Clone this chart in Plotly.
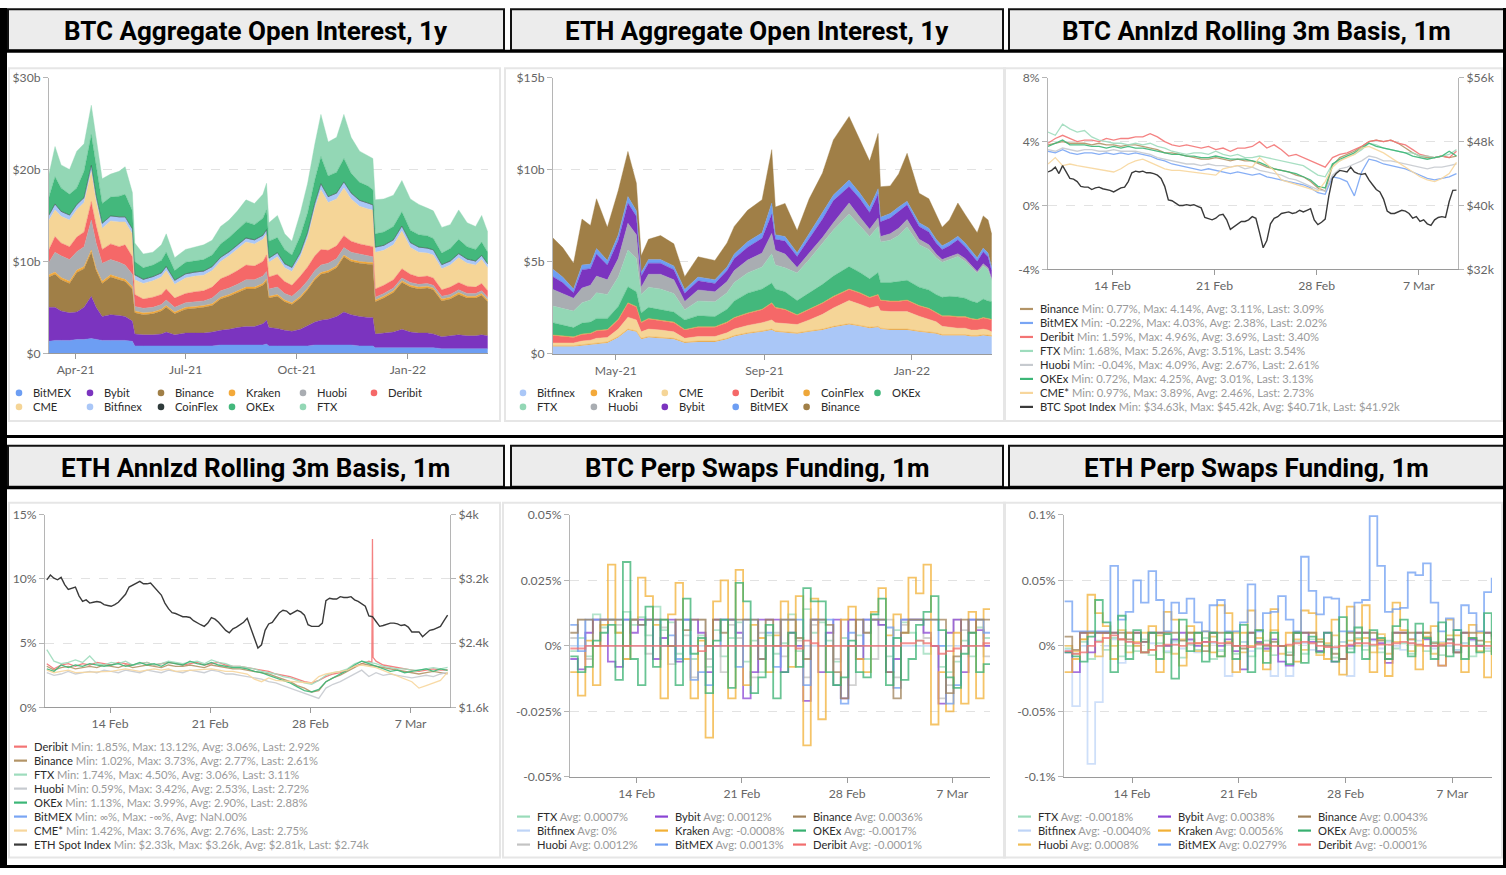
import plotly.graph_objects as go
import pandas as pd

W, H = 1506, 875
# The photographed page is shown with a small constant vertical offset/scale; positions below are
# given in target-picture pixels and mapped to page pixels here.
SY, BY = 0.9836, 7.8
def X(p): return p / W
def Y(p): return 1 - ((p - BY) / SY) / H
def Yraw(p): return 1 - p / H

# ---------------- Panel 1 : BTC aggregate open interest ($b, stacked) ----------------
btc_oi_dates = ["2021-03-10","2021-03-15","2021-03-20","2021-03-27","2021-04-02","2021-04-08","2021-04-14","2021-04-18","2021-04-23","2021-04-30",
                "2021-05-07","2021-05-12","2021-05-18","2021-05-20","2021-05-27","2021-06-04","2021-06-11","2021-06-15","2021-06-22","2021-07-01",
                "2021-07-09","2021-07-16","2021-07-23","2021-07-30","2021-08-06","2021-08-13","2021-08-20","2021-08-27","2021-09-03","2021-09-06",
                "2021-09-08","2021-09-15","2021-09-21","2021-09-27","2021-10-04","2021-10-10","2021-10-16","2021-10-21","2021-10-27","2021-11-03",
                "2021-11-09","2021-11-15","2021-11-22","2021-11-29","2021-12-03","2021-12-05","2021-12-12","2021-12-20","2021-12-27","2022-01-03",
                "2022-01-10","2022-01-17","2022-01-22","2022-01-29","2022-02-05","2022-02-12","2022-02-19","2022-02-26","2022-03-03","2022-03-08"]
btc_oi_bitmex = [1.3,1.4,1.4,1.4,1.5,1.5,1.6,1.5,1.4,1.4, 1.4,1.4,1.3,0.8,0.8,0.8,0.8,0.8,0.8,0.8, 0.8,0.8,0.8,0.9,0.9,0.9,0.9,0.9,0.9,1.0,
                 0.8,0.8,0.8,0.8,0.8,0.8,0.9,0.9,0.9,0.9, 0.9,0.9,0.8,0.8,0.8,0.6,0.6,0.6,0.6,0.6, 0.6,0.6,0.6,0.5,0.5,0.5,0.5,0.5,0.5,0.5]
btc_oi_bybit = [3.7,3.6,3.2,3.0,3.0,3.5,4.6,3.5,2.6,2.8, 2.7,2.6,2.2,1.3,1.2,1.2,1.3,1.5,1.2,1.4, 1.4,1.4,1.5,1.6,1.7,1.9,2.0,2.0,2.3,2.6,
                2.0,1.9,1.7,1.6,1.8,2.2,2.5,2.7,2.8,3.1, 3.6,3.3,3.2,3.1,3.1,1.5,1.6,1.7,2.0,1.7, 1.6,1.6,1.5,1.3,1.4,1.5,1.4,1.4,1.5,1.4]
btc_oi_binance = [3.3,3.6,3.4,3.2,4.3,4.2,4.8,4.0,3.6,4.1, 3.9,3.8,3.5,2.3,2.2,2.3,2.5,2.7,2.3,2.6, 2.7,2.8,2.9,3.4,3.6,3.8,4.1,4.1,4.2,4.3,
                  3.2,3.5,3.1,2.9,3.4,3.9,4.6,5.0,5.1,5.3, 6.0,5.8,5.8,5.8,5.8,3.5,3.8,4.3,5.1,4.9, 4.8,4.9,4.8,3.9,4.0,4.4,4.1,4.1,4.3,3.7]
btc_oi_kraken = [0.25,0.25,0.25,0.25,0.25,0.25,0.25,0.25,0.25,0.25, 0.25,0.25,0.25,0.2,0.2,0.2,0.2,0.2,0.2,0.2, 0.2,0.2,0.2,0.2,0.2,0.2,0.2,0.2,0.2,0.2,
                 0.2,0.2,0.2,0.2,0.2,0.2,0.2,0.2,0.2,0.2, 0.2,0.2,0.2,0.2,0.2,0.2,0.2,0.2,0.2,0.2, 0.2,0.2,0.2,0.2,0.2,0.2,0.2,0.2,0.2,0.2]
btc_oi_huobi = [1.35,2.15,2.35,2.35,2.0,2.15,3.25,2.75,1.95,1.65, 1.65,1.55,1.35,0.5,0.5,0.5,0.5,0.6,0.5,0.5, 0.5,0.5,0.6,0.7,0.7,0.7,0.8,0.8,0.8,0.8,
                0.8,0.8,0.7,0.7,0.8,0.8,0.8,0.8,0.8,0.8, 0.8,0.8,0.8,0.7,0.6,0.3,0.3,0.3,0.3,0.3, 0.3,0.3,0.3,0.3,0.3,0.3,0.3,0.3,0.3,0.3]
btc_oi_deribit = [1.4,1.7,1.4,1.4,1.6,1.6,2.0,1.9,1.5,1.7, 1.7,2.2,1.9,1.3,1.0,1.1,1.1,1.2,1.0,1.0, 1.1,1.1,1.2,1.3,1.4,1.5,1.6,1.5,1.6,1.8,
                  1.3,1.4,1.3,1.2,1.4,1.5,1.6,1.7,1.4,1.4, 1.3,1.2,1.1,1.1,1.1,0.9,0.9,0.9,1.0,0.9, 0.8,0.8,0.8,0.7,0.8,0.8,0.8,0.7,0.8,0.7]
btc_oi_cme = [3.2,2.9,2.9,2.9,3.0,3.2,3.3,2.7,2.3,2.5, 2.7,2.5,2.5,1.6,1.7,1.8,1.9,2.0,1.5,1.7, 1.7,1.7,1.8,1.9,2.1,2.3,2.5,2.4,2.4,2.3,
              1.6,1.9,1.5,1.5,2.1,3.2,5.2,6.5,5.2,5.1, 5.2,4.6,4.1,4.0,4.0,4.0,3.8,3.8,4.1,2.9, 2.7,2.5,2.5,2.3,2.4,2.7,2.5,2.4,2.6,2.5]
btc_oi_bitfinex = [0.5,0.6,0.5,0.5,0.5,0.5,0.6,0.5,0.5,0.5, 0.5,0.5,0.5,0.5,0.4,0.4,0.4,0.4,0.4,0.4, 0.4,0.4,0.4,0.4,0.4,0.4,0.4,0.4,0.4,0.4,
                   0.4,0.4,0.4,0.4,0.4,0.5,0.5,0.6,0.6,0.6, 0.6,0.6,0.6,0.6,0.5,0.5,0.5,0.5,0.5,0.5, 0.5,0.5,0.5,0.4,0.4,0.4,0.4,0.4,0.4,0.4]
btc_oi_coinflex = [0.05,0.05,0.05,0.05,0.05,0.05,0.05,0.05,0.05,0.05, 0.05,0.05,0.05,0.05,0.05,0.05,0.05,0.05,0.05,0.05,
                   0.05,0.05,0.05,0.05,0.05,0.05,0.05,0.05,0.05,0.05, 0.05,0.05,0.05,0.05,0.05,0.05,0.05,0.05,0.05,0.05,
                   0.05,0.05,0.05,0.05,0.05,0.05,0.05,0.05,0.05,0.05, 0.05,0.05,0.05,0.05,0.05,0.05,0.05,0.05,0.05,0.05]
btc_oi_okex = [1.95,2.95,2.55,2.25,1.8,2.85,3.35,3.35,2.15,2.05, 2.25,2.45,1.95,1.45,1.25,1.25,1.35,1.55,1.05,1.25, 1.25,1.25,1.25,1.45,1.55,1.65,1.75,1.65,1.85,2.15,
               1.85,1.65,1.55,1.35,1.85,2.15,2.55,2.95,2.25,2.25, 2.55,2.15,1.95,1.85,1.65,1.45,1.45,1.45,1.55,1.35, 1.35,1.35,1.25,1.25,1.35,1.55,1.35,1.25,1.45,1.25]
btc_oi_ftx = [2.5,3.3,2.5,2.7,4.0,3.0,3.2,3.0,2.7,2.5, 2.7,3.0,2.0,2.0,1.5,1.4,1.7,2.0,1.4,1.4, 1.5,1.6,1.6,1.9,1.9,2.1,2.4,2.3,2.6,2.9,
              2.0,2.4,1.7,1.5,2.5,3.2,3.9,4.6,3.7,3.8, 4.8,3.9,3.4,3.3,3.4,3.7,3.6,3.4,3.4,3.4, 3.3,3.0,3.0,2.8,2.6,3.2,2.6,2.5,2.9,2.2]

# ---------------- Panel 2 : ETH aggregate open interest ($b, stacked) ----------------
eth_oi_dates = ["2021-03-10","2021-03-18","2021-03-27","2021-04-03","2021-04-10","2021-04-15","2021-04-24","2021-05-03","2021-05-11","2021-05-18",
                "2021-05-22","2021-05-28","2021-06-07","2021-06-18","2021-06-27","2021-07-08","2021-07-22","2021-08-01","2021-08-07","2021-08-18",
                "2021-08-30","2021-09-07","2021-09-10","2021-09-18","2021-09-28","2021-10-08","2021-10-19","2021-10-28","2021-11-10","2021-11-19",
                "2021-11-27","2021-12-04","2021-12-06","2021-12-14","2021-12-21","2021-12-28","2022-01-07","2022-01-15","2022-01-21","2022-01-26",
                "2022-02-01","2022-02-08","2022-02-14","2022-02-19","2022-02-24","2022-03-01","2022-03-05","2022-03-08"]
eth_oi_bitfinex = [0.4,0.4,0.4,0.45,0.5,0.55,0.6,0.9,1.3,1.2, 0.8,0.9,0.85,0.8,0.6,0.65,0.65,0.8,0.95,1.1, 1.2,1.3,1.2,1.15,1.1,1.2,1.3,1.45,1.6,1.5,
                   1.4,1.45,1.35,1.3,1.3,1.3,1.2,1.15,1.1,1.0, 1.0,1.0,1.0,0.95,0.95,1.0,0.95,0.95]
eth_oi_kraken = [0.05,0.05,0.05,0.05,0.05,0.05,0.05,0.05,0.05,0.05, 0.05,0.05,0.05,0.05,0.05,0.05,0.05,0.05,0.05,0.05,
                 0.05,0.05,0.05,0.05,0.05,0.05,0.05,0.05,0.05,0.05, 0.05,0.05,0.05,0.05,0.05,0.05,0.05,0.05,0.05,0.05,
                 0.05,0.05,0.05,0.05,0.05,0.05,0.05,0.05]
eth_oi_cme = [0.15,0.15,0.15,0.2,0.2,0.25,0.25,0.4,0.65,0.6, 0.35,0.4,0.4,0.35,0.2,0.25,0.25,0.3,0.35,0.4, 0.45,0.5,0.45,0.45,0.45,0.6,0.8,1.0,1.25,1.15,
              1.05,1.1,0.95,0.95,0.95,0.95,0.8,0.7,0.6,0.45, 0.4,0.35,0.35,0.3,0.3,0.3,0.3,0.2]
eth_oi_deribit = [0.4,0.35,0.3,0.35,0.35,0.4,0.4,0.5,0.75,0.7, 0.5,0.55,0.5,0.5,0.45,0.5,0.5,0.55,0.6,0.65, 0.7,0.9,0.8,0.75,0.5,0.55,0.6,0.6,0.6,0.6,
                  0.55,0.6,0.55,0.55,0.55,0.6,0.55,0.55,0.5,0.55, 0.6,0.6,0.6,0.6,0.55,0.6,0.6,0.65]
eth_oi_coinflex = [0.03,0.03,0.03,0.03,0.03,0.03,0.03,0.03,0.03,0.03, 0.03,0.03,0.03,0.03,0.03,0.03,0.03,0.03,0.03,0.03,
                   0.03,0.03,0.03,0.03,0.03,0.03,0.03,0.03,0.03,0.03, 0.03,0.03,0.03,0.03,0.03,0.03,0.03,0.03,0.03,0.03,
                   0.03,0.03,0.03,0.03,0.03,0.03,0.03,0.03]
eth_oi_okex = [0.67,0.6,0.5,0.6,0.6,0.65,0.6,0.7,0.87,0.8, 0.5,0.6,0.6,0.55,0.52,0.6,0.55,0.7,0.9,1.07, 1.1,1.07,1.0,0.95,0.77,0.9,1.0,1.1,1.22,1.1,
               1.0,1.2,0.95,1.0,1.05,1.07,1.0,1.0,0.95,1.0, 1.05,1.07,1.0,0.95,0.9,1.0,0.95,0.97]
eth_oi_ftx = [0.9,0.9,0.9,1.1,1.2,1.4,1.3,1.6,2.0,1.8, 1.0,1.1,1.1,1.0,0.55,0.8,0.8,0.9,1.0,1.1, 1.2,1.6,1.3,1.3,1.5,1.8,2.2,2.5,2.85,2.5,
              2.3,2.5,2.2,2.3,2.5,2.9,2.3,2.2,2.0,1.9, 2.0,2.2,2.0,1.8,1.6,1.8,1.7,1.15]
eth_oi_huobi = [0.9,0.8,0.7,0.8,0.8,0.9,0.8,1.0,1.45,1.3, 0.4,0.7,0.8,0.75,0.45,0.6,0.55,0.6,0.65,0.7, 0.75,1.1,0.8,0.75,0.3,0.35,0.35,0.4,0.6,0.5,
                0.4,0.45,0.3,0.35,0.4,0.4,0.3,0.25,0.2,0.15, 0.15,0.15,0.15,0.12,0.1,0.12,0.1,0.1]
eth_oi_bybit = [0.7,0.6,0.3,1.0,0.9,1.2,0.8,1.0,1.1,1.0, 0.6,0.6,0.6,0.55,0.45,0.5,0.45,0.6,0.65,0.7, 0.8,1.05,0.6,0.7,0.6,0.8,1.0,1.2,0.9,1.0,
                0.9,1.3,0.8,0.85,0.9,0.8,0.7,0.7,0.6,0.55, 0.6,0.75,0.65,0.6,0.55,0.65,0.6,0.4]
eth_oi_bitmex = [0.4,0.3,0.2,0.25,0.25,0.3,0.25,0.3,0.35,0.3, 0.2,0.2,0.2,0.2,0.2,0.2,0.2,0.2,0.25,0.3, 0.3,0.6,0.25,0.25,0.2,0.25,0.3,0.3,0.35,0.3,
                 0.3,0.3,0.25,0.25,0.25,0.2,0.2,0.2,0.2,0.2, 0.2,0.2,0.2,0.2,0.2,0.2,0.2,0.2]
eth_oi_binance = [1.7,1.6,1.4,2.5,2.1,2.7,1.8,2.4,2.45,1.5, 0.9,1.1,1.3,1.2,0.7,1.1,1.05,1.3,1.5,1.7, 1.8,2.9,1.5,1.8,1.2,1.9,2.2,3.0,3.45,2.9,
                  2.5,3.0,1.65,1.5,1.8,2.6,1.6,1.6,1.3,1.0, 1.2,1.8,1.55,1.5,1.35,1.75,1.8,1.8]

# ---------------- Panels 3/4 : annualised rolling 3m basis (%), spot index ($k) ----------------
basis_times = pd.date_range("2022-02-09 14:00", periods=57, freq="12h")
spot_times = pd.date_range("2022-02-09 14:00", periods=113, freq="6h")

btc_basis_binance = [3.8,3.9,4.0,3.9,3.9,3.9,3.8,3.9,3.8,3.8, 3.7,3.8,3.8,3.7,3.6,3.5,3.3,3.3,3.2,3.1, 3.0,2.9,2.9,3.0,2.9,2.8,2.9,2.8,2.8,2.6,
                     2.4,2.3,2.2,2.1,1.9,1.8,1.5,1.1,0.9,2.5, 3.0,3.2,3.4,3.7,4.0,4.1,4.0,4.1,3.9,3.6, 3.3,3.1,3.0,3.0,3.1,3.0,3.1]
btc_basis_bitmex = [3.4,3.3,3.5,3.3,3.2,3.3,3.3,3.2,3.3,3.2, 3.3,3.2,3.3,3.2,3.1,2.9,2.8,2.6,2.5,2.4, 2.3,2.2,2.3,2.2,2.1,2.0,2.1,2.0,1.9,2.0,
                    1.8,1.7,1.6,1.5,1.4,1.3,1.1,0.8,0.7,1.8, 1.7,1.5,0.6,2.1,2.9,2.8,2.6,2.5,2.4,2.3, 2.1,1.9,1.7,1.6,1.7,1.8,2.0]
btc_basis_deribit = [3.9,4.2,4.4,4.2,4.0,4.1,4.1,4.0,4.2,4.1, 4.2,4.2,4.3,4.3,4.5,4.3,4.0,3.8,3.7,3.8, 3.7,3.6,3.7,3.5,3.6,3.4,3.6,3.6,3.7,4.0,
                     3.6,3.8,3.5,3.1,3.2,3.0,2.8,2.6,2.4,3.0, 3.2,3.3,3.5,3.7,4.0,4.1,4.0,4.1,3.9,3.8, 3.5,3.2,3.1,3.0,3.1,3.0,3.4]
btc_basis_ftx = [4.6,4.4,5.1,4.8,4.6,4.7,4.3,4.1,4.0,3.9, 3.9,3.8,3.9,3.8,3.9,3.7,3.6,3.4,3.3,3.2, 3.3,3.3,3.2,3.4,3.2,3.1,3.2,3.0,3.0,3.1,
                 3.0,2.9,2.8,2.7,2.6,2.5,2.2,1.9,1.8,2.6, 2.8,3.1,3.2,3.5,3.9,3.8,3.6,3.5,3.4,3.3, 3.3,3.1,3.1,3.0,3.1,3.2,3.5]
btc_basis_huobi = [3.5,3.4,3.6,3.5,3.4,3.5,3.5,3.4,3.4,3.5, 3.4,3.4,3.4,3.3,3.2,3.0,2.9,2.8,2.7,2.6, 2.6,2.5,2.6,2.5,2.5,2.4,2.5,2.3,2.4,2.2,
                   2.1,2.0,1.9,1.7,1.6,1.4,1.2,1.0,0.9,1.9, 2.3,2.4,2.6,2.8,3.1,3.0,2.8,2.8,2.7,2.6, 2.5,2.4,2.3,2.4,2.4,2.5,2.6]
btc_basis_okex = [3.7,3.9,4.1,3.8,3.8,3.8,3.7,3.7,3.6,3.7, 3.6,3.7,3.6,3.6,3.5,3.4,3.3,3.2,3.2,3.1, 3.1,3.0,3.0,3.1,3.0,2.9,2.9,2.9,2.8,2.7,
                  2.5,2.3,2.2,2.1,2.0,1.8,1.6,1.2,1.1,2.6, 2.9,3.1,3.3,3.6,3.9,3.7,3.6,3.5,3.4,3.3, 3.1,3.0,2.9,3.0,3.1,3.4,3.1]
btc_basis_cme = [2.6,3.0,2.5,2.6,2.5,None,None,None,None,2.1, 2.3,2.6,2.8,2.9,2.7,2.5,2.3,2.2,2.2,None, None,None,None,1.9,2.3,2.4,2.5,2.5,2.4,3.0,
                 2.6,2.2,1.6,None,None,None,None,0.9,1.5,2.4, 2.8,3.0,3.2,3.6,3.7,3.5,3.3,None,None,None, None,1.8,1.6,1.5,1.7,2.0,2.7]
btc_spot = [44.2,44.4,44.8,44.0,45.0,44.2,43.4,43.3,43.0,42.4, 42.3,42.3,42.0,42.2,42.3,42.1,42.0,41.9,41.7,42.0,
            42.2,42.3,43.0,44.1,44.3,44.2,44.3,44.1,44.1,44.0, 43.8,43.4,42.4,40.7,40.6,40.3,40.0,40.0,40.1,40.0,
            40.1,39.9,39.7,38.5,38.3,38.2,38.4,38.8,38.9,38.2, 37.0,37.3,37.6,38.0,38.0,38.2,38.6,38.4,36.6,34.7,
            35.6,37.7,38.4,38.6,39.0,39.1,39.2,39.0,39.1,39.4, 39.2,39.4,39.6,38.2,37.6,37.9,38.3,41.2,43.4,44.0,
            44.4,44.3,44.2,44.8,44.2,44.0,43.9,44.0,43.2,42.6, 42.0,41.7,40.8,39.3,39.0,39.0,39.2,39.4,39.3,39.0,
            38.4,38.6,38.0,38.2,37.7,37.5,38.2,38.5,38.6,38.5, 40.5,41.9,41.92]

eth_deribit_times = list(basis_times[:46]) + [pd.Timestamp("2022-03-04 07:00"), pd.Timestamp("2022-03-04 08:00"),
                                              pd.Timestamp("2022-03-04 09:00")] + list(basis_times[46:])
eth_basis_deribit = [3.4,3.0,3.3,3.4,3.2,3.4,3.3,3.5,3.4,3.3, 3.5,3.4,3.3,3.4,3.5,3.3,3.4,3.5,3.4,3.3, 3.4,3.5,3.3,3.4,3.5,3.3,3.2,3.2,3.1,3.0,
                     2.9,2.8,2.6,2.5,2.4,2.2,2.0,1.9,2.1,2.4, 2.6,2.7,2.9,3.2,3.4,3.6, 3.5,13.12,3.9,
                     3.6,3.3,3.2,3.1,3.0,2.9,2.8,2.9,3.0,2.9,2.92]
eth_basis_binance = [3.2,2.9,3.1,3.2,3.0,3.1,3.2,3.1,3.3,3.2, 3.1,3.3,3.1,3.2,3.3,3.2,3.1,3.3,3.2,3.2, 3.3,3.2,3.1,3.3,3.2,3.1,3.0,3.0,2.9,2.8,
                     2.7,2.6,2.4,2.2,2.0,1.7,1.5,1.2,1.3,2.0, 2.3,2.5,2.8,3.1,3.4,3.3,3.2,3.1,3.0,2.9, 2.8,2.7,2.6,2.7,2.8,2.7,2.61]
eth_basis_ftx = [4.5,3.6,3.4,3.5,3.7,3.5,4.0,3.4,3.3,3.5, 3.4,3.6,3.3,3.4,3.5,3.3,3.4,3.6,3.5,3.4, 3.5,3.6,3.4,3.7,3.5,3.4,3.2,3.2,3.1,3.0,
                 2.8,2.7,2.6,2.4,2.3,2.1,1.9,1.8,2.1,2.5, 2.7,2.8,3.0,3.4,3.6,3.5,3.4,3.2,3.1,3.0, 3.0,2.9,2.9,3.0,3.1,3.0,3.11]
eth_basis_huobi = [2.7,2.5,2.6,2.8,2.6,2.7,2.8,2.7,2.9,2.8, 2.7,2.9,2.8,2.7,2.9,2.8,2.7,2.9,2.8,2.7, 2.9,2.8,2.7,2.9,2.8,2.6,2.6,2.5,2.4,2.3,
                   2.2,2.0,1.9,1.7,1.5,1.3,1.1,0.9,0.7,1.5, 1.8,2.0,2.3,2.6,2.9,2.4,2.7,2.5,2.6,2.5, 2.4,2.3,2.4,2.5,2.4,2.6,2.72]
eth_basis_okex = [3.0,2.8,3.3,3.1,3.3,3.2,3.4,3.3,3.2,3.3, 3.4,3.2,3.3,3.5,3.3,3.4,3.2,3.5,3.4,3.3, 3.6,3.4,3.3,3.5,3.3,3.2,3.1,3.1,3.0,2.8,
                  2.7,2.5,2.3,2.1,1.9,1.6,1.3,1.2,1.4,2.0, 2.3,2.6,2.9,3.3,3.6,3.4,3.2,3.0,2.8,2.9, 2.7,2.8,2.9,3.0,2.8,3.0,2.88]
eth_basis_bitmex = []
eth_basis_cme = [2.9,2.7,2.8,2.9,2.7,None,None,None,None,2.8, 2.9,3.0,2.9,2.8,2.9,3.0,2.9,3.0,2.8,None, None,None,None,3.0,2.9,2.8,2.8,2.7,2.6,2.2,
                 2.0,2.3,2.1,None,None,None,None,1.9,2.4,2.6, 2.7,2.8,2.9,3.2,3.3,3.2,3.1,None,None,None, None,2.0,1.5,1.7,1.9,2.1,2.75]
eth_spot = [3.19,3.25,3.21,3.19,3.22,3.13,3.07,3.09,3.10,2.99, 2.92,2.94,2.90,2.91,2.92,2.91,2.88,2.87,2.86,2.88,
            2.91,2.96,3.01,3.10,3.12,3.15,3.17,3.14,3.14,3.15, 3.10,3.05,3.00,2.90,2.83,2.78,2.77,2.75,2.73,2.73,
            2.72,2.68,2.65,2.63,2.61,2.65,2.72,2.70,2.66,2.61, 2.56,2.53,2.58,2.60,2.63,2.66,2.71,2.59,2.46,2.34,
            2.38,2.56,2.64,2.66,2.72,2.78,2.81,2.80,2.76,2.78, 2.81,2.79,2.75,2.63,2.61,2.61,2.61,2.65,2.93,2.96,
            2.95,2.95,2.98,2.97,2.97,2.98,2.94,2.92,2.89,2.86, 2.74,2.73,2.67,2.61,2.62,2.64,2.65,2.65,2.64,2.62,
            2.63,2.60,2.54,2.54,2.54,2.48,2.52,2.56,2.57,2.59, 2.61,2.68,2.75]

# ---------------- Panels 5/6 : perp swaps funding (%) ----------------
fund_times = pd.date_range("2022-02-09 14:00", periods=57, freq="12h")

btc_f_ftx = [-0.002,0.003,-0.004,0.012,0.007,0.01,0.005,0.013,0.008,0.011, 0.004,0.015,0.006,0.009,-0.003,0.01,-0.005,0.004,-0.008,0.006,
             -0.004,0.003,0.009,-0.006,0.002,-0.01,0.004,-0.003,0.001,0.012, -0.002,0.014,0.005,0.009,0.002,-0.006,0.003,0.01,0.004,-0.005,
             0.012,0.008,-0.004,0.006,0.009,0.005,0.002,-0.003,0.0,-0.008, -0.01,-0.006,0.002,-0.004,0.007,0.003,0.021]
btc_f_bitfinex = [0,0,0,0,0,0,0,0,0,0, 0,0,0,0,0,0,0,0,0,0, 0,0,0,0,0,0,0,0,0,0, 0,0,0,0,0,0,0,0,0,0, 0,0,0,0,0,0,0,0,0,0, 0,0,0,0,0,0,0]
btc_f_huobi = [0.003,0.01,-0.005,0.01,0.0,0.01,0.008,-0.005,0.01,0.01, -0.003,0.01,0.007,-0.007,0.01,0.004,-0.012,0.01,-0.005,0.01,
               -0.01,0.008,0.003,0.01,-0.012,0.005,0.01,0.005,-0.004,0.01, 0.002,-0.012,0.008,0.01,0.0,-0.005,0.01,-0.015,0.01,0.005,
               -0.005,0.01,0.01,-0.012,0.008,0.01,0.01,0.003,0.0,-0.02, -0.015,0.01,0.006,0.0,0.01,-0.004,-0.011]
btc_f_bybit = [-0.005,-0.009,0.005,0.01,0.01,-0.006,-0.008,0.01,0.005,0.01, 0.01,-0.005,0.003,0.01,-0.006,0.01,0.01,0.005,-0.01,0.01,
               0.01,0.01,0.005,-0.02,-0.01,0.01,0.01,0.01,-0.01,0.005, 0.0,-0.021,0.01,-0.01,0.005,0.01,-0.02,0.01,-0.005,0.01,
               0.01,0.008,-0.01,-0.005,0.01,0.01,0.01,0.005,0.0,-0.022, 0.005,0.01,-0.01,0.01,0.006,0.0,-0.009]
btc_f_kraken = [-0.01,-0.019,0.002,-0.015,0.008,0.031,0.005,-0.005,0.01,0.026, 0.019,0.008,-0.02,0.012,0.024,-0.005,-0.02,0.002,-0.035,0.017,
                0.025,-0.02,0.029,-0.015,0.008,0.003,-0.01,0.004,0.017,-0.008, 0.019,-0.038,0.018,-0.028,0.0,-0.015,0.01,0.015,-0.005,-0.01,
                0.013,0.022,0.004,0.012,0.005,0.026,0.02,0.031,-0.03,-0.01, -0.025,0.005,-0.022,0.013,-0.02,0.014,0.016]
btc_f_bitmex = [0.008,-0.002,0.01,0.01,0.01,0.01,0.01,0.01,0.01,0.008, 0.01,0.01,0.0,0.004,-0.005,0.01,-0.013,-0.01,-0.015,0.0,
                0.01,0.01,-0.008,0.01,0.01,-0.005,0.005,-0.008,0.01,0.01, 0.01,-0.015,0.01,0.01,0.01,-0.015,-0.022,0.005,0.0,0.01,
                0.01,0.01,0.007,-0.016,0.01,0.01,0.01,0.01,0.01,0.0, -0.022,-0.015,0.0,0.01,0.01,0.005,0.01]
btc_f_binance = [0.005,0.01,0.01,0.0,0.01,0.01,0.01,0.0,0.01,0.008, 0.01,0.01,0.01,0.0,0.01,0.006,0.01,0.01,0.0,0.01,
                 0.005,0.01,0.01,0.01,0.01,-0.005,0.01,0.0,0.01,0.01, 0.003,-0.005,0.01,0.01,0.008,-0.01,-0.02,0.0,0.01,0.005,
                 0.01,0.01,-0.01,-0.02,0.005,0.01,0.01,0.01,0.01,0.01, -0.018,-0.004,0.01,0.005,0.01,0.01,0.008]
btc_f_okex = [-0.004,-0.01,-0.008,0.002,0.005,0.008,-0.013,0.032,-0.005,-0.015, 0.015,-0.008,0.01,0.0,-0.015,0.018,-0.003,0.003,-0.018,0.002,
              0.01,-0.016,0.024,0.017,-0.018,-0.012,0.008,-0.02,-0.01,0.005, -0.008,0.022,0.017,0.017,-0.01,-0.015,-0.012,0.002,-0.01,-0.012,
              0.012,0.018,-0.015,0.003,-0.013,-0.005,0.008,0.013,0.019,0.006, -0.012,-0.016,-0.003,0.005,-0.01,-0.007,0.021]
btc_f_deribit = [-0.001,-0.001,0.0,0.0,0.0,0.0,0.0,0.0,0.0,0.0, 0.0,0.0,0.0,0.0,0.0,0.0,0.0,-0.002,0.0,0.0,
                 0.0,0.0,0.0,0.0,0.0,0.0,0.0,0.0,0.0,0.0, -0.001,0.002,0.001,0.0,0.0,0.0,0.0,0.0,0.0,0.0,
                 0.0,0.0,0.0,0.0,0.001,0.001,0.002,0.001,0.0,-0.003, -0.002,-0.001,0.0,0.0,0.0,0.001,0.0]

eth_f_ftx = [-0.002,-0.006,0.003,-0.01,0.004,-0.003,0.006,-0.008,0.0,-0.004, 0.005,-0.007,0.002,-0.005,0.004,-0.009,0.001,-0.003,0.006,-0.01,
             -0.004,0.002,-0.006,0.003,-0.008,-0.002,0.004,-0.007,0.0,-0.005, 0.003,-0.006,0.005,-0.004,0.001,-0.009,0.003,-0.002,0.006,-0.003,
             0.0,-0.005,0.004,-0.002,0.002,-0.006,0.001,-0.004,0.003,-0.007, 0.0,-0.003,0.002,-0.008,0.001,-0.004,0.0]
eth_f_bitfinex = [-0.003,-0.046,0.0,-0.09,-0.043,0.0,0.005,-0.013,0.003,0.0, -0.005,0.002,0.0,-0.004,0.003,-0.002,0.004,-0.005,0.0,0.002,
                  -0.003,-0.023,0.0,0.003,-0.004,0.002,-0.003,-0.023,0.0,-0.023, 0.004,0.002,-0.003,0.005,0.0,-0.002,0.003,-0.023,0.002,0.0,
                  0.004,-0.002,0.003,0.0,-0.003,0.002,0.004,0.0,-0.002,0.003, 0.0,-0.003,0.002,0.004,0.0,-0.002,0.003]
eth_f_huobi = [0.0,-0.004,0.005,0.01,-0.008,0.01,0.0,0.012,-0.005,0.003, 0.01,-0.003,0.008,0.0,-0.006,0.005,0.01,-0.004,0.0,0.007,
               -0.008,0.003,0.01,-0.005,0.0,0.006,-0.004,0.012,-0.006,0.0, 0.005,-0.003,0.01,-0.007,0.002,0.008,-0.01,0.004,0.0,0.006,
               -0.005,0.009,-0.006,0.003,0.01,-0.004,0.0,0.007,-0.006,0.002, 0.008,-0.005,0.0,0.006,-0.004,0.003,-0.006]
eth_f_bybit = [-0.005,-0.02,0.01,-0.005,0.01,0.01,0.01,0.005,0.01,0.01, 0.003,0.01,0.01,0.0,0.005,0.01,0.005,0.0,0.003,0.01,
               0.0,0.005,-0.004,-0.018,0.01,0.003,-0.002,0.005,-0.012,-0.015, 0.01,0.01,0.003,-0.004,0.01,-0.012,-0.01,0.0,0.01,0.01,
               0.005,0.002,-0.013,0.01,0.01,0.005,0.01,0.005,0.0,-0.015, 0.005,-0.005,0.01,0.005,0.0,0.01,0.005]
eth_f_kraken = [-0.02,-0.01,0.005,0.039,0.025,0.015,-0.01,0.005,0.01,0.0, -0.005,0.015,-0.02,0.026,0.02,-0.015,0.015,0.002,0.011,-0.005,
                0.031,0.025,-0.02,0.01,0.027,0.012,-0.018,0.028,0.0,0.01, -0.012,0.027,0.025,0.005,-0.01,0.02,-0.022,0.03,0.005,0.031,
                -0.02,0.005,-0.023,0.033,0.012,0.005,-0.018,0.01,0.015,-0.015, 0.02,0.008,-0.02,0.016,0.01,-0.024,0.01]
eth_f_bitmex = [0.034,0.011,0.011,0.011,0.011,0.011,0.061,0.02,0.026,0.05, 0.033,0.057,0.035,0.011,0.033,0.025,0.036,0.018,0.011,0.031,
                0.035,0.011,0.011,0.018,0.047,0.011,0.025,0.026,0.038,0.02, 0.011,0.068,0.042,0.024,0.037,0.036,0.011,0.011,0.033,0.035,
                0.099,0.061,0.026,0.028,0.029,0.056,0.054,0.063,0.033,0.011, 0.021,0.012,0.031,0.025,0.011,0.041,0.052]
eth_f_binance = [0.007,-0.003,0.01,0.01,0.01,0.01,0.01,0.01,0.005,0.01, 0.003,0.01,0.01,0.01,0.01,0.004,0.01,0.01,-0.004,0.01,
                 0.01,0.01,0.0,-0.002,0.01,0.002,0.0,0.003,0.0,-0.007, 0.01,0.01,0.01,0.003,0.0,-0.006,-0.01,0.01,0.01,0.01,
                 0.01,0.004,-0.01,0.01,0.01,0.01,0.01,0.01,0.002,0.0, 0.005,-0.005,0.01,0.01,0.004,0.01,0.007]
eth_f_okex = [-0.005,-0.008,-0.012,0.007,0.035,0.018,-0.02,0.023,-0.01,0.012, -0.005,0.01,-0.01,0.009,-0.025,0.02,-0.004,0.01,-0.012,0.01,
              -0.008,0.01,-0.01,0.016,-0.02,0.012,-0.013,0.01,0.0,-0.014, 0.01,-0.013,0.007,-0.005,0.01,-0.012,0.022,-0.005,0.014,-0.01,
              0.012,0.006,-0.01,0.015,0.02,-0.008,0.017,0.006,-0.01,0.018, -0.008,0.012,-0.01,0.006,-0.005,0.025,-0.007]
eth_f_deribit = [-0.004,-0.006,-0.005,0.0,0.003,0.006,0.008,0.005,0.003,0.002, -0.005,-0.003,0.0,0.001,0.001,0.0,0.002,0.002,0.003,0.003,
                 0.002,0.002,0.0,0.0,-0.001,0.001,0.001,0.0,0.0,0.001, 0.002,0.003,0.002,0.0,-0.001,-0.001,0.0,0.001,0.002,0.002,
                 0.001,0.001,0.001,0.002,0.003,0.002,0.001,0.0,0.0,0.001, 0.002,0.001,0.0,0.0,0.0,0.0,0.0]

# ---------------- text ----------------
titles = ["BTC Aggregate Open Interest, 1y", "ETH Aggregate Open Interest, 1y", "BTC Annlzd Rolling 3m Basis, 1m",
          "ETH Annlzd Rolling 3m Basis, 1m", "BTC Perp Swaps Funding, 1m", "ETH Perp Swaps Funding, 1m"]
btc_basis_stats = ["Min: 0.77%, Max: 4.14%, Avg: 3.11%, Last: 3.09%", "Min: -0.22%, Max: 4.03%, Avg: 2.38%, Last: 2.02%",
                   "Min: 1.59%, Max: 4.96%, Avg: 3.69%, Last: 3.40%", "Min: 1.68%, Max: 5.26%, Avg: 3.51%, Last: 3.54%",
                   "Min: -0.04%, Max: 4.09%, Avg: 2.67%, Last: 2.61%", "Min: 0.72%, Max: 4.25%, Avg: 3.01%, Last: 3.13%",
                   "Min: 0.97%, Max: 3.89%, Avg: 2.46%, Last: 2.73%", "Min: $34.63k, Max: $45.42k, Avg: $40.71k, Last: $41.92k"]
eth_basis_stats = ["Min: 1.85%, Max: 13.12%, Avg: 3.06%, Last: 2.92%", "Min: 1.02%, Max: 3.73%, Avg: 2.77%, Last: 2.61%",
                   "Min: 1.74%, Max: 4.50%, Avg: 3.06%, Last: 3.11%", "Min: 0.59%, Max: 3.42%, Avg: 2.53%, Last: 2.72%",
                   "Min: 1.13%, Max: 3.99%, Avg: 2.90%, Last: 2.88%", "Min: \u221e%, Max: -\u221e%, Avg: NaN.00%",
                   "Min: 1.42%, Max: 3.76%, Avg: 2.76%, Last: 2.75%", "Min: $2.33k, Max: $3.26k, Avg: $2.81k, Last: $2.74k"]
btc_fund_avgs = ["Avg: 0.0007%", "Avg: 0%", "Avg: 0.0012%", "Avg: 0.0012%", "Avg: -0.0008%", "Avg: 0.0013%",
                 "Avg: 0.0036%", "Avg: -0.0017%", "Avg: -0.0001%"]
eth_fund_avgs = ["Avg: -0.0018%", "Avg: -0.0040%", "Avg: 0.0008%", "Avg: 0.0038%", "Avg: 0.0056%", "Avg: 0.0279%",
                 "Avg: 0.0043%", "Avg: 0.0005%", "Avg: -0.0001%"]

# ---------------- styling ----------------
AREA = dict(BitMEX="#6d9ef3", Bybit="#7b34bf", Binance="#a07f47", Kraken="#f3a93a", Huobi="#a9adb2", Deribit="#f56868",
            CME="#f5d597", Bitfinex="#aac7f7", CoinFlex="#2f3b3b", OKEx="#43b87c", FTX="#93d7b5")
LINE = dict(Binance="#b39467", BitMEX="#79a5f4", Deribit="#f37474", FTX="#9edcbd", Huobi="#c6cacf", OKEx="#3cb677",
            CME="#f7d69c", Spot="#3a3a3a")
FUND = dict(FTX="#99dbb9", Bitfinex="#bed4f7", Huobi="#c3c3c3", Bybit="#8a44d4", Kraken="#f2b035", BitMEX="#6e9ef2",
            Binance="#9f8159", OKEx="#37b070", Deribit="#f26d6d")

fig = go.Figure()

def area(x, y, name, color, xa, ya, grp):
    fig.add_trace(go.Scatter(x=x[:len(y)], y=y, name=name, mode="lines", stackgroup=grp,
                             line=dict(width=0.4, color=color), fillcolor=color, xaxis=xa, yaxis=ya,
                             showlegend=False, hoverinfo="skip"))

for nm, vals in [("BitMEX", btc_oi_bitmex), ("Bybit", btc_oi_bybit), ("Binance", btc_oi_binance), ("Kraken", btc_oi_kraken),
                 ("Huobi", btc_oi_huobi), ("Deribit", btc_oi_deribit), ("CME", btc_oi_cme), ("Bitfinex", btc_oi_bitfinex),
                 ("CoinFlex", btc_oi_coinflex), ("OKEx", btc_oi_okex), ("FTX", btc_oi_ftx)]:
    area(btc_oi_dates, vals, nm, AREA[nm], "x", "y", "btc")

eth_area_colors = dict(AREA, CoinFlex="#eea73a")
for nm, vals in [("Bitfinex", eth_oi_bitfinex), ("Kraken", eth_oi_kraken), ("CME", eth_oi_cme), ("Deribit", eth_oi_deribit),
                 ("CoinFlex", eth_oi_coinflex), ("OKEx", eth_oi_okex), ("FTX", eth_oi_ftx), ("Huobi", eth_oi_huobi),
                 ("Bybit", eth_oi_bybit), ("BitMEX", eth_oi_bitmex), ("Binance", eth_oi_binance)]:
    area(eth_oi_dates, vals, nm, eth_area_colors[nm], "x2", "y2", "eth")

def line(x, y, name, color, xa, ya, width=1.3, opacity=0.9, shape="linear"):
    fig.add_trace(go.Scatter(x=list(x)[:len(y)], y=y, name=name, mode="lines", connectgaps=True,
                             line=dict(width=width, color=color, shape=shape), opacity=opacity,
                             xaxis=xa, yaxis=ya, showlegend=False, hoverinfo="skip"))

btc_basis_series = [("Binance", btc_basis_binance), ("BitMEX", btc_basis_bitmex), ("Deribit", btc_basis_deribit),
                    ("FTX", btc_basis_ftx), ("Huobi", btc_basis_huobi), ("OKEx", btc_basis_okex), ("CME", btc_basis_cme)]
for nm, vals in btc_basis_series:
    line(basis_times, vals, nm, LINE[nm], "x3", "y3")
line(spot_times, btc_spot, "BTC Spot Index", LINE["Spot"], "x3", "y4", width=1.4, opacity=1)

eth_basis_series = [("Deribit", eth_basis_deribit), ("Binance", eth_basis_binance), ("FTX", eth_basis_ftx),
                    ("Huobi", eth_basis_huobi), ("OKEx", eth_basis_okex), ("BitMEX", eth_basis_bitmex), ("CME", eth_basis_cme)]
for nm, vals in eth_basis_series:
    xs = eth_deribit_times if nm == "Deribit" else basis_times
    line(xs, vals, nm, LINE[nm], "x4", "y5")
line(spot_times, eth_spot, "ETH Spot Index", LINE["Spot"], "x4", "y6", width=1.4, opacity=1)

btc_fund_series = [("FTX", btc_f_ftx), ("Bitfinex", btc_f_bitfinex), ("Huobi", btc_f_huobi), ("Bybit", btc_f_bybit),
                   ("Kraken", btc_f_kraken), ("BitMEX", btc_f_bitmex), ("Binance", btc_f_binance), ("OKEx", btc_f_okex),
                   ("Deribit", btc_f_deribit)]
for nm, vals in btc_fund_series:
    line(fund_times, vals, nm, FUND[nm], "x5", "y7", width=1.8, opacity=0.75, shape="hv")

eth_fund_colors = dict(FUND, Huobi="#f0bd55")
eth_fund_series = [("FTX", eth_f_ftx), ("Bitfinex", eth_f_bitfinex), ("Huobi", eth_f_huobi), ("Bybit", eth_f_bybit),
                   ("Kraken", eth_f_kraken), ("BitMEX", eth_f_bitmex), ("Binance", eth_f_binance), ("OKEx", eth_f_okex),
                   ("Deribit", eth_f_deribit)]
for nm, vals in eth_fund_series:
    line(fund_times, vals, nm, eth_fund_colors[nm], "x6", "y8", width=1.8, opacity=0.75, shape="hv")

# ---------------- axes ----------------
tickfont = dict(family="Lato, sans-serif", size=12.2, color="#666")

def xcfg(x0, x1, anchor, rng, tv, tt):
    return dict(domain=[X(x0), X(x1)], anchor=anchor, type="date", range=rng, tickmode="array", tickvals=tv,
                ticktext=tt, tickfont=tickfont, showgrid=False, zeroline=False, showline=True, linecolor="#9a9a9a",
                linewidth=1, ticks="outside", ticklen=5, tickcolor="#9a9a9a", fixedrange=True)

def ycfg(top, bot, anchor, rng, tv, tt, side="left", overlay=None):
    d = dict(anchor=anchor, range=rng, tickmode="array", tickvals=tv, ticktext=tt, tickfont=tickfont,
             showgrid=overlay is None, gridcolor="#e2e2e2", griddash="dash", gridwidth=1, zeroline=False,
             showline=True, linecolor="#b5b5b5", linewidth=1, ticks="outside", ticklen=5, tickcolor="#b5b5b5",
             side=side, fixedrange=True)
    if overlay:
        d["overlaying"] = overlay
    else:
        d["domain"] = [Y(bot), Y(top)]
    return d

oi_range = ["2021-03-10", "2022-03-08 06:00"]
m_ticks = ["2022-02-14", "2022-02-21", "2022-02-28", "2022-03-07"]
m_text = ["14 Feb", "21 Feb", "28 Feb", "7 Mar"]

fig.update_layout(
    xaxis=xcfg(49, 488, "y", oi_range, ["2021-04-01", "2021-07-01", "2021-10-01", "2022-01-01"],
               ["Apr-21", "Jul-21", "Oct-21", "Jan-22"]),
    yaxis=ycfg(77.5, 353.3, "x", [0, 30], [0, 10, 20, 30], ["$0", "$10b", "$20b", "$30b"]),
    xaxis2=xcfg(553, 992, "y2", oi_range, ["2021-05-01", "2021-09-01", "2022-01-01"], ["May-21", "Sep-21", "Jan-22"]),
    yaxis2=ycfg(77.7, 354, "x2", [0, 15], [0, 5, 10, 15], ["$0", "$5b", "$10b", "$15b"]),
    xaxis3=xcfg(1048, 1458, "y3", ["2022-02-09 14:00", "2022-03-09 16:30"], m_ticks, m_text),
    yaxis3=ycfg(77.7, 269.3, "x3", [-4, 8], [-4, 0, 4, 8], ["-4%", "0%", "4%", "8%"]),
    yaxis4=ycfg(77.7, 269.3, "x3", [32, 56], [32, 40, 48, 56], ["$32k", "$40k", "$48k", "$56k"], side="right", overlay="y3"),
    xaxis4=xcfg(45, 450, "y5", ["2022-02-09 11:00", "2022-03-09 18:00"], m_ticks, m_text),
    yaxis5=ycfg(515, 707.7, "x4", [0, 15], [0, 5, 10, 15], ["0%", "5%", "10%", "15%"]),
    yaxis6=ycfg(515, 707.7, "x4", [1.6, 4.0], [1.6, 2.4, 3.2, 4.0], ["$1.6k", "$2.4k", "$3.2k", "$4k"], side="right", overlay="y5"),
    xaxis5=xcfg(570, 990, "y7", ["2022-02-09 13:30", "2022-03-09 12:15"], m_ticks, m_text),
    yaxis7=ycfg(515, 777.3, "x5", [-0.05, 0.05], [-0.05, -0.025, 0, 0.025, 0.05],
                ["-0.05%", "-0.025%", "0%", "0.025%", "0.05%"]),
    xaxis6=xcfg(1064, 1492, "y8", ["2022-02-09 13:00", "2022-03-09 14:30"], m_ticks, m_text),
    yaxis8=ycfg(515, 777.3, "x6", [-0.1, 0.1], [-0.1, -0.05, 0, 0.05, 0.1], ["-0.1%", "-0.05%", "0%", "0.05%", "0.1%"]),
)

# ---------------- frame, titles, legends ----------------
shapes, annots = [], []

def rect(x0, y0, x1, y1, fill="rgba(0,0,0,0)", line_color="rgba(0,0,0,0)", lw=0, layer="above", yf=Y):
    shapes.append(dict(type="rect", xref="paper", yref="paper", x0=X(x0), x1=X(x1), y0=yf(y1), y1=yf(y0),
                       fillcolor=fill, line=dict(color=line_color, width=lw), layer=layer))

def seg(x0, y0, x1, y1, color, w, layer="above", yf=Y):
    shapes.append(dict(type="line", xref="paper", yref="paper", x0=X(x0), x1=X(x1), y0=yf(y0), y1=yf(y1),
                       line=dict(color=color, width=w), layer=layer))

# chart containers
for (a, b) in [(9, 500), (505, 1005), (1004, 1502)]:
    rect(a, 68, b, 421, line_color="#e6e6e6", lw=2, layer="below")
for (a, b) in [(9, 500), (503, 1005), (1004, 1502)]:
    rect(a, 503, b, 858, line_color="#e6e6e6", lw=2, layer="below")

# title boxes
boxes_x = [(8, 504), (511, 1003), (1009, 1504)]
for r, (ya, yb) in enumerate([(9, 50), (446, 487)]):
    for c, (xa, xb) in enumerate(boxes_x):
        rect(xa, ya, xb, yb, fill="#ececec", line_color="#111", lw=2)
        annots.append(dict(text=titles[r * 3 + c], xref="paper", yref="paper", x=X((xa + xb) / 2),
                           y=Y((ya + yb) / 2 + 1.5), xanchor="center", yanchor="middle", showarrow=False,
                           font=dict(family="Roboto, Arial, sans-serif", size=26, color="#000", weight="bold")))

seg(0, 51, W, 51, "#000", 3)
seg(0, 488, W, 488, "#000", 3)
seg(0, 436.5, W, 436.5, "#000", 3)
seg(0, 873.5, W, 873.5, "#000", 3, yf=Yraw)
rect(0, 0, 7, H, fill="#000", yf=Yraw)
rect(1503, 0, W, H, fill="#000", yf=Yraw)

lfont = dict(family="Lato, sans-serif", size=11.2, color="#333")

def label(x, y, name, extra=""):
    txt = f"<span style='color:#2a2a2a'>{name}</span>"
    if extra:
        txt += f"<span style='color:#9a9a9a'> {extra}</span>"
    annots.append(dict(text=txt, xref="paper", yref="paper", x=X(x), y=Y(y), xanchor="left", yanchor="middle",
                       showarrow=False, font=lfont))

def dot(cx, cy, color):
    shapes.append(dict(type="circle", xref="paper", yref="paper", x0=X(cx - 3.3), x1=X(cx + 3.3),
                       y0=Y(cy + 3.3), y1=Y(cy - 3.3), fillcolor=color, line=dict(width=0), layer="above"))

def sym(x0, x1, y, color):
    seg(x0, y, x1, y, color, 2.2)

btc_oi_legend = [["BitMEX", "Bybit", "Binance", "Kraken", "Huobi", "Deribit"], ["CME", "Bitfinex", "CoinFlex", "OKEx", "FTX"]]
eth_oi_legend = [["Bitfinex", "Kraken", "CME", "Deribit", "CoinFlex", "OKEx"], ["FTX", "Huobi", "Bybit", "BitMEX", "Binance"]]
for row, names in enumerate(btc_oi_legend):
    for i, nm in enumerate(names):
        cx, cy = 19 + 71 * i, 393 + 14 * row
        dot(cx, cy, AREA[nm])
        label(cx + 12, cy, nm)
for row, names in enumerate(eth_oi_legend):
    for i, nm in enumerate(names):
        cx, cy = 523 + 70.9 * i, 393 + 14 * row
        dot(cx, cy, eth_area_colors[nm])
        label(cx + 12, cy, nm)

btc_basis_names = ["Binance", "BitMEX", "Deribit", "FTX", "Huobi", "OKEx", "CME*", "BTC Spot Index"]
btc_basis_cols = [LINE["Binance"], LINE["BitMEX"], LINE["Deribit"], LINE["FTX"], LINE["Huobi"], LINE["OKEx"], LINE["CME"], LINE["Spot"]]
for i, (nm, st, col) in enumerate(zip(btc_basis_names, btc_basis_stats, btc_basis_cols)):
    y = 309 + 14 * i
    sym(1020, 1033, y, col)
    label(1038, y, nm, st)

eth_basis_names = ["Deribit", "Binance", "FTX", "Huobi", "OKEx", "BitMEX", "CME*", "ETH Spot Index"]
eth_basis_cols = [LINE["Deribit"], LINE["Binance"], LINE["FTX"], LINE["Huobi"], LINE["OKEx"], LINE["BitMEX"], LINE["CME"], LINE["Spot"]]
for i, (nm, st, col) in enumerate(zip(eth_basis_names, eth_basis_stats, eth_basis_cols)):
    y = 747 + 14 * i
    sym(14, 27, y, col)
    label(32, y, nm, st)

fund_names = ["FTX", "Bitfinex", "Huobi", "Bybit", "Kraken", "BitMEX", "Binance", "OKEx", "Deribit"]
for i, nm in enumerate(fund_names):
    col, row = divmod(i, 3)
    y = 817 + 14 * row
    x0 = [517, 655, 793][col]
    sym(x0, x0 + 13, y, FUND[nm])
    label(x0 + 18, y, nm, btc_fund_avgs[i])
    x0 = [1018, 1158, 1298][col]
    sym(x0, x0 + 13, y, eth_fund_colors[nm])
    label(x0 + 18, y, nm, eth_fund_avgs[i])

fig.update_layout(width=W, height=H, margin=dict(l=0, r=0, t=0, b=0), paper_bgcolor="#ffffff",
                  plot_bgcolor="rgba(0,0,0,0)", showlegend=False, shapes=shapes, annotations=annots,
                  font=dict(family="Lato, sans-serif"))

page_fix = ("var gd=document.getElementById('{plot_id}');"
            "gd.style.position='fixed';gd.style.top='0px';gd.style.left='0px';"
            "document.body.style.margin='0px';document.body.style.padding='0px';"
            "document.documentElement.style.overflow='hidden';document.body.style.overflow='hidden';")
fig.write_html("out.html", config={"displayModeBar": False, "staticPlot": True}, post_script=page_fix)
